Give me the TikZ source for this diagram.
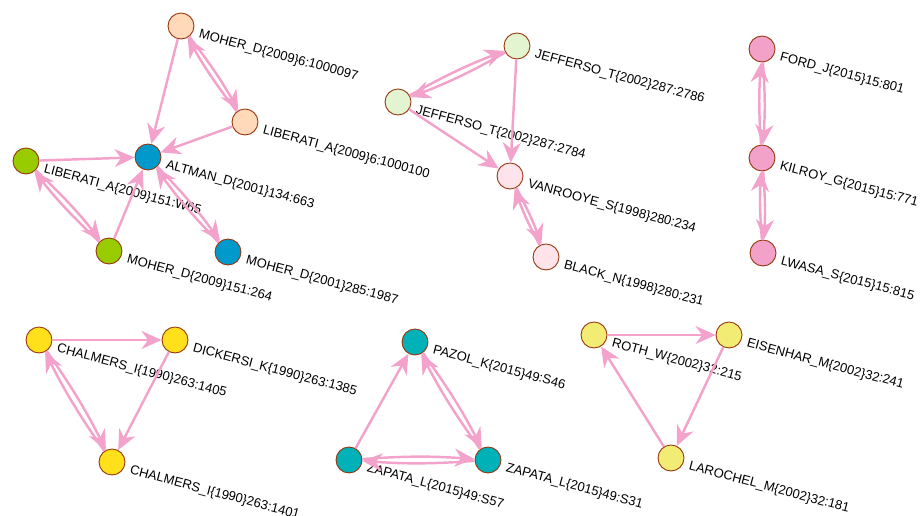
\documentclass[tikz,border=0pt]{standalone}
\usepackage{fontspec}
\setmainfont{Liberation Sans}
\usetikzlibrary{arrows.meta}
\definecolor{bordure}{RGB}{150,50,10}
\definecolor{rose}{RGB}{243,163,203}
\definecolor{peche}{RGB}{255,217,186}
\definecolor{bleu}{RGB}{0,153,204}
\definecolor{vert}{RGB}{153,204,0}
\definecolor{vertpale}{RGB}{227,245,208}
\definecolor{rosepale}{RGB}{255,227,234}
\definecolor{rosevif}{RGB}{242,161,201}
\definecolor{jaune}{RGB}{255,224,26}
\definecolor{turquoise}{RGB}{0,178,184}
\definecolor{jaunepale}{RGB}{242,236,117}

\begin{document}
\begin{tikzpicture}[x=0.02cm,y=-0.02cm]
\tikzset{noeud/.style={draw=bordure, circle, minimum size=0.52cm, inner sep=0pt, line width=0.5pt},
etiq/.style={rotate=-15, anchor=base west, inner sep=0pt, font=\fontsize{7.4}{8}\selectfont},
cite/.style={draw=rose, line width=1.4pt, -{Stealth[length=4mm, width=3.6mm, inset=1.3mm, fill=rose]}}}
\useasboundingbox (0,0) rectangle (920,516);
% groupe 1
\node[noeud, fill=peche] (A1) at (181,26) {};
\node[noeud, fill=peche] (A2) at (245,122) {};
\node[noeud, fill=bleu] (A3) at (148,157) {};
\node[noeud, fill=vert] (A4) at (26,161) {};
\node[noeud, fill=vert] (A5) at (109,251) {};
\node[noeud, fill=bleu] (A6) at (228,252) {};
% groupe 2
\node[noeud, fill=vertpale] (B1) at (517,46) {};
\node[noeud, fill=vertpale] (B2) at (398,102) {};
\node[noeud, fill=rosepale] (B3) at (510,176) {};
\node[noeud, fill=rosepale] (B4) at (546,257) {};
% groupe 3
\node[noeud, fill=rosevif] (C1) at (762,49) {};
\node[noeud, fill=rosevif] (C2) at (762,158) {};
\node[noeud, fill=rosevif] (C3) at (763,253) {};
% groupe 4
\node[noeud, fill=jaune] (D1) at (39,340) {};
\node[noeud, fill=jaune] (D2) at (175,340) {};
\node[noeud, fill=jaune] (D3) at (112,462) {};
% groupe 5
\node[noeud, fill=turquoise] (E1) at (415,342) {};
\node[noeud, fill=turquoise] (E2) at (349,460) {};
\node[noeud, fill=turquoise] (E3) at (488,460) {};
% groupe 6
\node[noeud, fill=jaunepale] (F1) at (594,335) {};
\node[noeud, fill=jaunepale] (F2) at (729,335) {};
\node[noeud, fill=jaunepale] (F3) at (671,458) {};
% etiquettes
\node[etiq] (tA1) at ([shift={(17,11.5)}]A1) {MOHER\_D\{2009\}6:1000097};
\node[etiq] (tA2) at ([shift={(17,11.5)}]A2) {LIBERATI\_A\{2009\}6:1000100};
\node[etiq] (tA3) at ([shift={(17,11.5)}]A3) {ALTMAN\_D\{2001\}134:663};
\node[etiq] (tA4) at ([shift={(17,11.5)}]A4) {LIBERATI\_A\{2009\}151:W65};
\node[etiq] (tA5) at ([shift={(17,11.5)}]A5) {MOHER\_D\{2009\}151:264};
\node[etiq] (tA6) at ([shift={(17,11.5)}]A6) {MOHER\_D\{2001\}285:1987};
\node[etiq] (tB1) at ([shift={(17,11.5)}]B1) {JEFFERSO\_T\{2002\}287:2786};
\node[etiq] (tB2) at ([shift={(17,11.5)}]B2) {JEFFERSO\_T\{2002\}287:2784};
\node[etiq] (tB3) at ([shift={(17,11.5)}]B3) {VANROOYE\_S\{1998\}280:234};
\node[etiq] (tB4) at ([shift={(17,11.5)}]B4) {BLACK\_N\{1998\}280:231};
\node[etiq] (tC1) at ([shift={(17,11.5)}]C1) {FORD\_J\{2015\}15:801};
\node[etiq] (tC2) at ([shift={(17,11.5)}]C2) {KILROY\_G\{2015\}15:771};
\node[etiq] (tC3) at ([shift={(17,11.5)}]C3) {LWASA\_S\{2015\}15:815};
\node[etiq] (tD1) at ([shift={(17,11.5)}]D1) {CHALMERS\_I\{1990\}263:1405};
\node[etiq] (tD2) at ([shift={(17,11.5)}]D2) {DICKERSI\_K\{1990\}263:1385};
\node[etiq] (tD3) at ([shift={(17,11.5)}]D3) {CHALMERS\_I\{1990\}263:1401};
\node[etiq] (tE1) at ([shift={(17,11.5)}]E1) {PAZOL\_K\{2015\}49:S46};
\node[etiq] (tE2) at ([shift={(17,11.5)}]E2) {ZAPATA\_L\{2015\}49:S57};
\node[etiq] (tE3) at ([shift={(17,11.5)}]E3) {ZAPATA\_L\{2015\}49:S31};
\node[etiq] (tF1) at ([shift={(17,11.5)}]F1) {ROTH\_W\{2002\}32:215};
\node[etiq] (tF2) at ([shift={(17,11.5)}]F2) {EISENHAR\_M\{2002\}32:241};
\node[etiq] (tF3) at ([shift={(17,11.5)}]F3) {LAROCHEL\_M\{2002\}32:181};
% citations
\draw[cite] (A1) -- (A3);
\draw[cite] (A1) to[bend left=4] (A2);
\draw[cite] (A2) to[bend left=4] (A1);
\draw[cite] (A2) -- (A3);
\draw[cite] (A4) -- (A3);
\draw[cite] (A4) to[bend left=4] (A5);
\draw[cite] (A5) to[bend left=4] (A4);
\draw[cite] (A5) -- (A3);
\draw[cite] (A3) to[bend left=4] (A6);
\draw[cite] (A6) to[bend left=4] (A3);
\draw[cite] (B1) to[bend left=4] (B2);
\draw[cite] (B2) to[bend left=4] (B1);
\draw[cite] (B1) -- (B3);
\draw[cite] (B2) -- (B3);
\draw[cite] (B3) to[bend left=4] (B4);
\draw[cite] (B4) to[bend left=4] (B3);
\draw[cite] (C1) to[bend left=4] (C2);
\draw[cite] (C2) to[bend left=4] (C1);
\draw[cite] (C2) to[bend left=4] (C3);
\draw[cite] (C3) to[bend left=4] (C2);
\draw[cite] (D1) -- (D2);
\draw[cite] (D2) -- (D3);
\draw[cite] (D1) to[bend left=4] (D3);
\draw[cite] (D3) to[bend left=4] (D1);
\draw[cite] (E2) -- (E1);
\draw[cite] (E1) to[bend left=4] (E3);
\draw[cite] (E3) to[bend left=4] (E1);
\draw[cite] (E2) to[bend left=4] (E3);
\draw[cite] (E3) to[bend left=4] (E2);
\draw[cite] (F1) -- (F2);
\draw[cite] (F2) -- (F3);
\draw[cite] (F3) -- (F1);
\end{tikzpicture}
\end{document}
